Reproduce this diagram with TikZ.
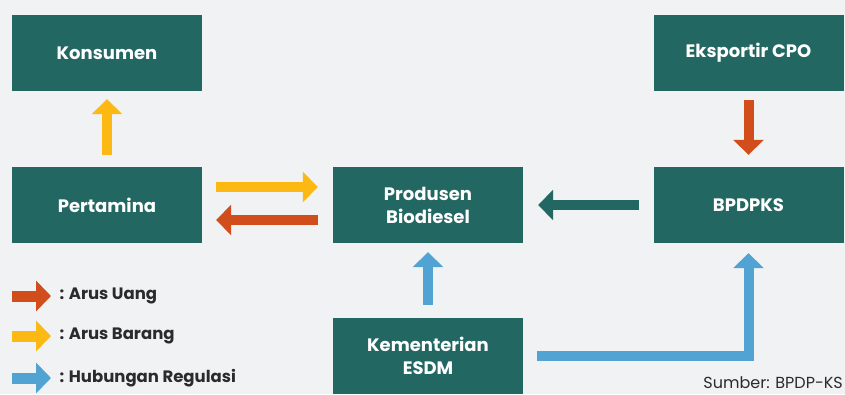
\documentclass[tikz,border=0pt]{standalone}
\usepackage{fontspec}
\setmainfont{Poppins}
\usetikzlibrary{arrows.meta}
\definecolor{bdTeal}{HTML}{236762}
\definecolor{bdOrange}{HTML}{D24D1C}
\definecolor{bdYellow}{HTML}{FDB913}
\definecolor{bdBlue}{HTML}{50A3D2}
\definecolor{bdBack}{HTML}{F1F2F4}
\definecolor{bdInk}{HTML}{2B2B2B}
\tikzset{
  bd box/.style={draw=none, fill=bdTeal, minimum width=190pt, minimum height=76pt, inner sep=2pt, align=center, font=\bfseries\fontsize{18}{23}\selectfont, text=white},
  bd flow/.style={line width=10pt, -{Triangle[length=15pt,width=30pt]}},
  bd legend/.style={font=\bfseries\fontsize{16.5}{19}\selectfont, text=bdInk, anchor=west},
}
\begin{document}
\begin{tikzpicture}[x=1pt,y=-1pt]
\fill[bdBack](0,0)rectangle(845,394);\useasboundingbox(0,0)rectangle(845,394);
% boxes
\node[bd box](konsumen)at(107,53){Konsumen};\node[bd box](eksportir)at(748.5,53){Eksportir CPO};
\node[bd box](pertamina)at(107,205){Pertamina};\node[bd box](produsen)at(428,205){Produsen\\Biodiesel};
\node[bd box](bpdpks)at(748.5,205){BPDPKS};\node[bd box](esdm)at(428,356){Kementerian\\ESDM};
% flows
\draw[bd flow,bdYellow,shorten <=12pt,shorten >=8pt](pertamina.north)--(konsumen.south);
\draw[bd flow,bdYellow,shorten <=14pt,shorten >=15pt]([yshift=18pt]pertamina.east)--([yshift=18pt]produsen.west);
\draw[bd flow,bdOrange,shorten <=15pt,shorten >=14pt]([yshift=-15pt]produsen.west)--([yshift=-15pt]pertamina.east);
\draw[bd flow,bdTeal,shorten <=14pt,shorten >=15pt](bpdpks.west)--(produsen.east);
\draw[bd flow,bdOrange,shorten <=9pt,shorten >=12pt](eksportir.south)--(bpdpks.south|-bpdpks.north);
\draw[bd flow,bdBlue,shorten <=13pt,shorten >=9pt](esdm.north)--(produsen.south);
\draw[bd flow,bdBlue,line join=miter,shorten <=14pt,shorten >=10pt](esdm.east)-|(bpdpks.south);
% legend
\node[bd legend](lgUang)at(56,296){: Arus Uang};\node[bd legend](lgBarang)at(56,336){: Arus Barang};
\node[bd legend](lgRegulasi)at(56,378){: Hubungan Regulasi};
\coordinate(lgUangS)at(12,296);\coordinate(lgBarangS)at(12,336);\coordinate(lgRegulasiS)at(12,378);
\draw[bd flow,bdOrange,line width=11pt,shorten >=5pt](lgUangS)--(lgUang.west);
\draw[bd flow,bdYellow,line width=11pt,shorten >=5pt](lgBarangS)--(lgBarang.west);
\draw[bd flow,bdBlue,line width=11pt,shorten >=5pt](lgRegulasiS)--(lgRegulasi.west);
\node[font=\fontsize{16}{18}\selectfont,text=bdInk,anchor=base east,inner sep=0pt](sumber)at(843,388){Sumber: BPDP-KS};
\end{tikzpicture}
\end{document}
